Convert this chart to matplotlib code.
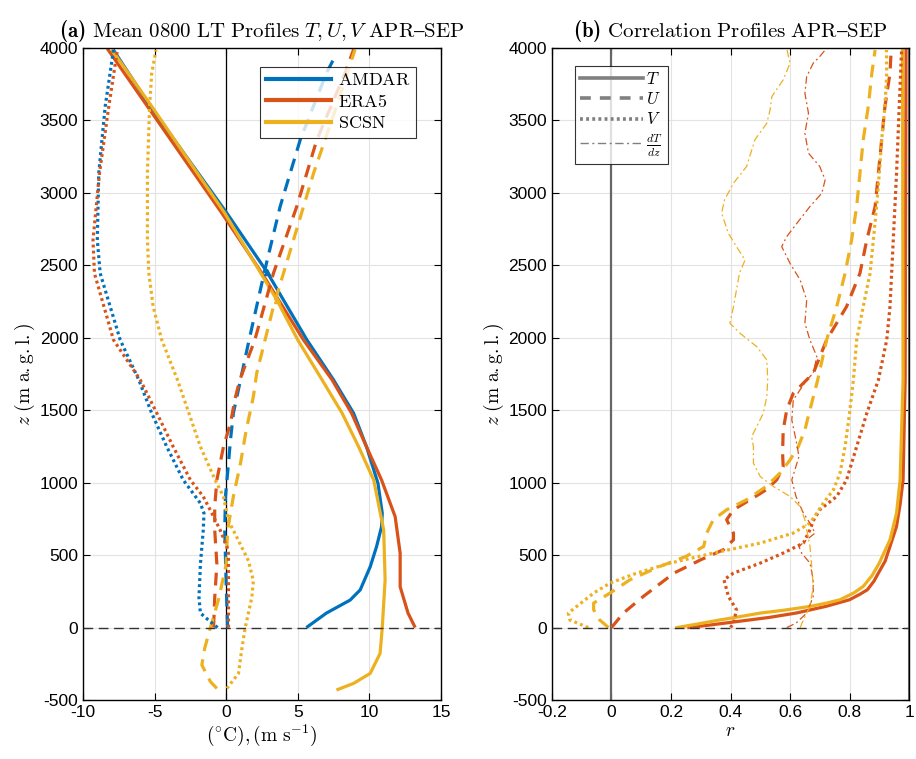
import matplotlib.pyplot as plt
from matplotlib.lines import Line2D
from matplotlib.ticker import FuncFormatter

plt.rcParams.update({
    "font.family": ["Liberation Sans", "DejaVu Sans"],
    "mathtext.fontset": "cm",
    "axes.unicode_minus": False,
})

BLUE = "#0072BD"
RED = "#D95319"
YEL = "#EDB120"

# ---- (a) mean profiles: temperature T (degC), wind U, V (m/s) vs height z (m) ----
z_T_amdar = [0, 100, 190, 260, 420, 558, 696, 789, 996, 1248, 1479, 1709, 1985, 2456, 2860, 3583, 3990]
T_amdar = [5.6, 7.0, 8.66, 9.36, 10.06, 10.5, 10.85, 10.9, 10.6, 9.8, 8.9, 7.5, 5.64, 2.84, 0.05, -5.2, -7.9]
z_T_era5 = [0, 100, 282, 513, 766, 1019, 1248, 1479, 1709, 1985, 2445, 2860, 3583, 3995]
T_era5 = [13.2, 12.7, 12.15, 12.15, 11.8, 10.85, 9.8, 8.76, 7.4, 5.4, 2.5, -0.3, -5.4, -8.3]
z_T_scsn = [-431, -385, -316, -178, 0, 328, 673, 1019, 1248, 1479, 1709, 1985, 2261, 2860, 3583, 3990]
T_scsn = [7.7, 8.9, 10.06, 10.75, 10.9, 11.1, 11.0, 10.3, 9.25, 8.1, 6.7, 5.0, 3.54, -0.1, -5.1, -8.0]

z_U_amdar = [0, 300, 673, 904, 1134, 1295, 1479, 1709, 1985, 2468, 2906, 3366, 3826, 3960]
U_amdar = [0.1, 0.0, -0.1, -0.05, 0.16, 0.3, 0.5, 1.0, 1.6, 2.7, 3.77, 5.17, 7.0, 7.7]
z_U_era5 = [0, 207, 437, 673, 834, 1019, 1248, 1410, 1571, 1709, 1985, 2445, 2906, 3366, 3826, 3990]
U_era5 = [-0.88, -0.8, -0.65, -0.8, -0.8, -0.65, -0.19, 0.3, 0.6, 0.95, 2.0, 3.3, 4.93, 6.33, 8.3, 8.9]
z_U_scsn = [-420, -373, -258, -143, 0, 207, 437, 673, 904, 1134, 1364, 1594, 1755, 2215, 2675, 3135, 3596, 3990]
U_scsn = [-0.65, -1.1, -1.7, -1.5, -1.1, -0.5, 0.0, 0.1, 0.5, 1.0, 1.4, 1.9, 2.13, 3.3, 4.7, 6.1, 7.7, 9.0]

z_V_amdar = [0, 40, 100, 207, 437, 673, 789, 858, 1019, 1248, 1479, 1709, 1985, 2445, 2675, 3135, 3596, 3986]
V_amdar = [-0.6, -1.1, -1.8, -1.9, -1.8, -1.6, -1.55, -1.8, -3.0, -4.15, -5.2, -6.1, -7.4, -8.8, -9.0, -8.9, -8.45, -7.87]
z_V_era5 = [0, 511, 558, 673, 789, 904, 1019, 1248, 1479, 1709, 1985, 2445, 2675, 3135, 3596, 3986]
V_era5 = [0.16, 0.16, 0.05, -0.42, -1.0, -1.6, -2.5, -3.7, -4.84, -6.0, -7.87, -9.2, -9.3, -8.85, -8.2, -7.6]
z_V_scsn = [-420, -316, -143, 0, 207, 322, 460, 622, 737, 904, 1019, 1248, 1479, 1709, 1985, 2215, 2445,
            2675, 3135, 3596, 3826, 3986]
V_scsn = [0.05, 0.86, 1.1, 1.33, 1.79, 1.9, 1.56, 0.75, 0.16, -0.19, -0.77, -1.8, -2.6, -3.4, -4.5, -5.1, -5.4,
          -5.5, -5.5, -5.35, -5.2, -4.9]

# triangle markers on the T profiles
mark_amdar = (2.84, 2456)
mark_scsn = (3.54, 2261)

# ---- (b) correlation with AMDAR vs height ----
z_rT_era5 = [0, 20, 41, 70, 100, 146, 192, 230, 261, 320, 376, 460, 560, 698, 850, 1019, 1709, 4000]
rT_era5 = [0.26, 0.34, 0.42, 0.53, 0.62, 0.72, 0.80, 0.835, 0.86, 0.882, 0.897, 0.92, 0.936, 0.958, 0.97,
           0.98, 0.987, 0.99]
z_rT_scsn = [0, 25, 53, 75, 100, 120, 146, 170, 192, 240, 284, 360, 445, 606, 790, 1019, 1709, 4000]
rT_scsn = [0.22, 0.29, 0.365, 0.43, 0.5, 0.58, 0.667, 0.725, 0.768, 0.815, 0.846, 0.876, 0.90, 0.936, 0.958,
           0.97, 0.98, 0.978]

z_rU_era5 = [0, 100, 215, 376, 468, 537, 606, 652, 744, 813, 882, 951, 1019, 1111, 1203, 1364, 1502, 1617,
             1755, 1985, 2215, 2445, 2675, 2906, 3135, 3366, 3596, 3826, 3986]
rU_era5 = [0.0, 0.04, 0.107, 0.21, 0.30, 0.376, 0.41, 0.41, 0.387, 0.41, 0.466, 0.52, 0.555, 0.577, 0.575,
           0.577, 0.589, 0.611, 0.678, 0.723, 0.79, 0.835, 0.858, 0.886, 0.897, 0.908, 0.919, 0.936, 0.94]
z_rU_scsn = [0, 53, 123, 169, 238, 330, 422, 491, 560, 652, 744, 813, 882, 974, 1065, 1157, 1249, 1364,
             1479, 1709, 1985, 2215, 2445, 2675, 2906, 3135, 3366, 3596, 3826, 3986]
rU_scsn = [-0.01, -0.04, -0.06, -0.06, -0.005, 0.062, 0.163, 0.25, 0.31, 0.32, 0.342, 0.387, 0.454, 0.52,
           0.566, 0.6, 0.628, 0.65, 0.664, 0.693, 0.723, 0.757, 0.785, 0.807, 0.824, 0.835, 0.846, 0.863,
           0.875, 0.886]

z_rV_era5 = [0, 30, 123, 215, 330, 376, 445, 514, 583, 675, 744, 813, 905, 1019, 1249, 1479, 1709, 1985,
             2215, 2675, 3135, 3596, 3986]
rV_era5 = [0.40, 0.41, 0.42, 0.393, 0.378, 0.41, 0.5, 0.577, 0.645, 0.667, 0.68, 0.70, 0.757, 0.79, 0.824,
           0.858, 0.897, 0.925, 0.936, 0.947, 0.958, 0.967, 0.975]
z_rV_scsn = [0, 53, 100, 146, 238, 307, 376, 445, 514, 583, 652, 721, 790, 859, 951, 1066, 1249, 1479,
             1709, 1985, 2215, 2445, 2675, 2906, 3135, 3366, 3596, 3826, 3986]
rV_scsn = [-0.078, -0.14, -0.145, -0.117, -0.06, -0.005, 0.085, 0.197, 0.342, 0.5, 0.611, 0.667, 0.69,
           0.712, 0.746, 0.768, 0.785, 0.80, 0.813, 0.824, 0.846, 0.869, 0.88, 0.891, 0.9, 0.908, 0.919,
           0.925, 0.924]

z_rdT_era5 = [0, 30, 100, 215, 330, 445, 514, 560, 606, 652, 721, 790, 905, 1019, 1180, 1295, 1433, 1571,
              1709, 1755, 1870, 1985, 2100, 2261, 2399, 2514, 2629, 2698, 2790, 2906, 2998, 3090, 3182,
              3274, 3412, 3550, 3688, 3803, 3895, 3941, 3986]
rdT_era5 = [0.589, 0.62, 0.656, 0.678, 0.678, 0.667, 0.639, 0.63, 0.656, 0.684, 0.667, 0.645, 0.62, 0.606,
            0.63, 0.62, 0.606, 0.611, 0.656, 0.678, 0.69, 0.667, 0.65, 0.656, 0.634, 0.60, 0.572, 0.589,
            0.623, 0.667, 0.707, 0.718, 0.70, 0.662, 0.65, 0.662, 0.65, 0.656, 0.678, 0.70, 0.718]
z_rdT_scsn = [0, 53, 146, 284, 445, 560, 675, 744, 836, 905, 974, 1042, 1134, 1249, 1318, 1387, 1479, 1594,
              1709, 1847, 1939, 2031, 2100, 2215, 2330, 2445, 2537, 2629, 2721, 2860, 2952, 3067, 3182,
              3366, 3481, 3573, 3665, 3780, 3895, 3986]
rdT_scsn = [0.634, 0.645, 0.667, 0.678, 0.672, 0.667, 0.656, 0.65, 0.634, 0.60, 0.544, 0.50, 0.477, 0.477,
            0.471, 0.488, 0.51, 0.522, 0.525, 0.522, 0.488, 0.432, 0.398, 0.41, 0.42, 0.43, 0.449, 0.42,
            0.393, 0.37, 0.38, 0.41, 0.454, 0.482, 0.522, 0.533, 0.539, 0.577, 0.60, 0.59]

sources = ["AMDAR", "ERA5", "SCSN"]
var_labels = [r"$T$", r"$U$", r"$V$", r"$\frac{dT}{dz}$"]

LW = 2.3
DASH = (4.0, 2.6)
DOT = (0.9, 1.0)


def style_axes(ax, xlim, xticks):
    ax.set_xlim(*xlim)
    ax.set_ylim(-500, 4000)
    ax.set_xticks(xticks)
    ax.set_yticks(range(-500, 4001, 500))
    ax.grid(True, color="#e3e3e3", lw=0.8)
    ax.set_axisbelow(True)
    ax.tick_params(direction="in", top=True, right=True, length=5, labelsize=12.5, width=0.8)
    for s in ax.spines.values():
        s.set_linewidth(1.0)
    ax.set_ylabel(r"$z\ \mathrm{(m\ a.g.l.)}$", fontsize=14, labelpad=2)


fig = plt.figure(figsize=(9.16, 7.59), dpi=100)
ax1 = fig.add_axes([0.0906, 0.0777, 0.3908, 0.8591])
ax2 = fig.add_axes([0.6026, 0.0777, 0.3898, 0.8591])

# ---- panel (a) ----
ax1.axvline(0, color="black", lw=0.9, zorder=1)
for z, v, c in [(z_T_amdar, T_amdar, BLUE), (z_T_era5, T_era5, RED), (z_T_scsn, T_scsn, YEL)]:
    ax1.plot(v, z, color=c, lw=LW, solid_capstyle="butt")
for z, v, c in [(z_U_amdar, U_amdar, BLUE), (z_U_era5, U_era5, RED), (z_U_scsn, U_scsn, YEL)]:
    ax1.plot(v, z, color=c, lw=LW, dashes=DASH)
for z, v, c in [(z_V_amdar, V_amdar, BLUE), (z_V_era5, V_era5, RED), (z_V_scsn, V_scsn, YEL)]:
    ax1.plot(v, z, color=c, lw=LW, dashes=DOT)
ax1.plot(*mark_amdar, marker="^", ms=5, color=BLUE)
ax1.plot(*mark_scsn, marker="^", ms=5, color=YEL)
ax1.axhline(0, color="#333333", lw=1.0, dashes=(7, 4), zorder=5)

style_axes(ax1, (-10, 15), range(-10, 16, 5))
ax1.set_xlabel(r"$(^{\circ}\mathrm{C}),(\mathrm{m\ s}^{-1})$", fontsize=14, labelpad=2)
ax1.set_title(r"(a) $\mathrm{Mean\ 0800\ LT\ Profiles}\ T,U,V\ \mathrm{APR–SEP}$",
              fontsize=15, pad=8, family="cmb10")
h1 = [Line2D([], [], color=c, lw=3) for c in (BLUE, RED, YEL)]
leg1 = ax1.legend(h1, [r"$\mathrm{%s}$" % s for s in sources], loc="upper right",
                  bbox_to_anchor=(0.955, 0.985), fontsize=13, frameon=True, fancybox=False,
                  handlelength=3.6, handletextpad=0.4, borderpad=0.3, labelspacing=0.25)
leg1.get_frame().set_edgecolor("black")
leg1.get_frame().set_linewidth(0.8)

# ---- panel (b) ----
ax2.axvline(0, color="#666666", lw=1.6, zorder=1)
ax2.axvline(1, color="#777777", lw=2.2, zorder=1)
ax2.plot(rT_era5, z_rT_era5, color=RED, lw=LW)
ax2.plot(rT_scsn, z_rT_scsn, color=YEL, lw=LW)
ax2.plot(rU_era5, z_rU_era5, color=RED, lw=LW, dashes=DASH)
ax2.plot(rU_scsn, z_rU_scsn, color=YEL, lw=LW, dashes=DASH)
ax2.plot(rV_era5, z_rV_era5, color=RED, lw=LW, dashes=DOT)
ax2.plot(rV_scsn, z_rV_scsn, color=YEL, lw=LW, dashes=DOT)
ax2.plot(rdT_era5, z_rdT_era5, color=RED, lw=0.9, dashes=(6, 2.5, 1.5, 2.5))
ax2.plot(rdT_scsn, z_rdT_scsn, color=YEL, lw=0.9, dashes=(6, 2.5, 1.5, 2.5))
ax2.axhline(0, color="#333333", lw=1.0, dashes=(7, 4), zorder=5)

style_axes(ax2, (-0.2, 1.0), [-0.2, 0, 0.2, 0.4, 0.6, 0.8, 1.0])
ax2.xaxis.set_major_formatter(FuncFormatter(lambda v, p: "%g" % round(v, 2)))
ax2.set_xlabel(r"$r$", fontsize=14, labelpad=2)
ax2.set_title(r"(b) $\mathrm{Correlation\ Profiles\ APR–SEP}$", fontsize=15, pad=8, family="cmb10")
h2 = [Line2D([], [], color="#808080", lw=2.6),
      Line2D([], [], color="#808080", lw=2.6, dashes=(3, 2.5)),
      Line2D([], [], color="#808080", lw=2.6, dashes=(0.8, 0.9)),
      Line2D([], [], color="#808080", lw=1.0, dashes=(6, 2.5, 1.5, 2.5))]
leg2 = ax2.legend(h2, var_labels, loc="upper left", bbox_to_anchor=(0.04, 0.985), fontsize=12,
                  frameon=True, fancybox=False, handlelength=3.8, handletextpad=0.2,
                  borderpad=0.3, labelspacing=0.25)
leg2.get_frame().set_edgecolor("black")
leg2.get_frame().set_linewidth(0.8)

fig.savefig("out.png", dpi=100)
